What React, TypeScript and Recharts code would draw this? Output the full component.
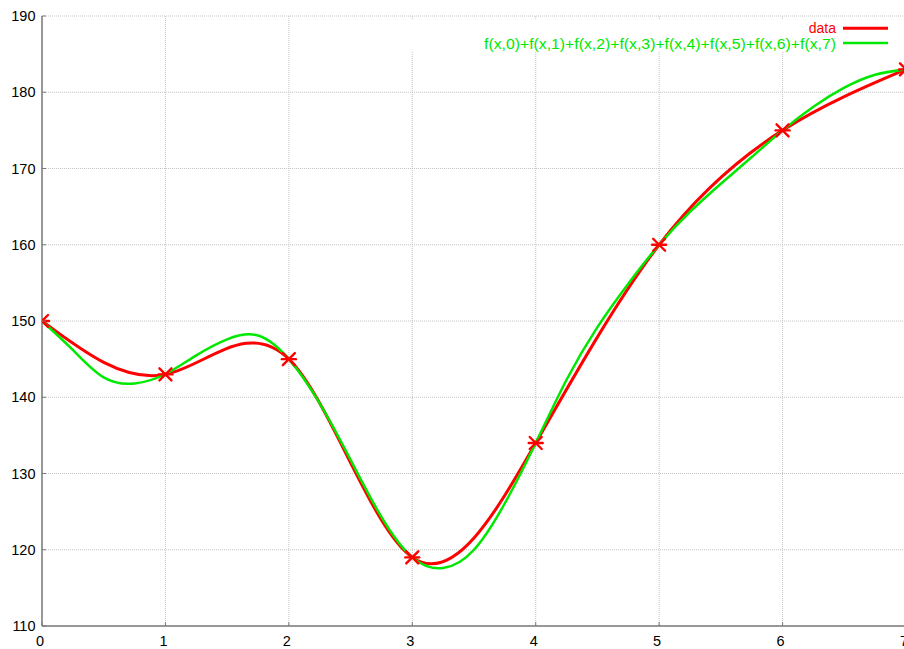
import React from 'react';
import { ComposedChart, Line, XAxis, YAxis, CartesianGrid, Legend } from 'recharts';

// ---- data ----
const dataX = [0, 1, 2, 3, 4, 5, 6, 7];
const dataValues = [150, 143, 145, 119, 134, 160, 175, 183];

const fitX = [
  0, 0.25, 0.5, 0.75, 1, 1.25, 1.5, 1.75, 2, 2.25, 2.5, 2.75, 3, 3.25, 3.5, 3.75,
  4, 4.25, 4.5, 4.75, 5, 5.25, 5.5, 5.75, 6, 6.25, 6.5, 6.75, 7,
];
const fitValues = [
  150, 146.2, 142.6, 141.8, 143.05, 145.5, 147.6, 148.1, 145, 139.2, 131.8, 124.3, 119,
  117.6, 120.0, 126.1, 134, 142.3, 149.2, 154.9, 160, 164.3, 168.0, 171.5, 175, 178.1,
  180.6, 182.3, 183,
];

const xTicks = [0, 1, 2, 3, 4, 5, 6, 7];
const yTicks = [110, 120, 130, 140, 150, 160, 170, 180, 190];
const seriesNames = ['data', 'f(x,0)+f(x,1)+f(x,2)+f(x,3)+f(x,4)+f(x,5)+f(x,6)+f(x,7)'];

const dataPoints = dataX.map((x, i) => ({ x, y: dataValues[i] }));
const fitPoints = fitX.map((x, i) => ({ x, y: fitValues[i] }));

// ---- styles ----
const RED = '#ff0000';
const GREEN = '#00e800';
const BORDER = '#7a7a7a';
const FONT = '"Liberation Sans", Arial, Helvetica, sans-serif';
const TICK_LEN = 4;

const BottomTick = (props: any) => {
  const { x, y, payload } = props;
  return (
    <g>
      <line x1={x} y1={y} x2={x} y2={y - TICK_LEN} stroke={BORDER} strokeWidth={1} />
      <text x={x - 2} y={y + 20} textAnchor="middle" fontFamily={FONT} fontSize={14.5} fill="#000">
        {payload.value}
      </text>
    </g>
  );
};

const TopTick = (props: any) => {
  const { x, y } = props;
  return <line x1={x} y1={y} x2={x} y2={y + TICK_LEN} stroke={BORDER} strokeWidth={1} />;
};

const LeftTick = (props: any) => {
  const { x, y, payload } = props;
  return (
    <g>
      <line x1={x} y1={y} x2={x + TICK_LEN} y2={y} stroke={BORDER} strokeWidth={1} />
      <text x={x - 6.5} y={y + 5} textAnchor="end" fontFamily={FONT} fontSize={14.5} fill="#000">
        {payload.value}
      </text>
    </g>
  );
};

const RightTick = (props: any) => {
  const { x, y } = props;
  return <line x1={x} y1={y} x2={x - TICK_LEN} y2={y} stroke={BORDER} strokeWidth={1} />;
};

const StarDot = (props: any) => {
  const { cx, cy, index } = props;
  if (cx == null || cy == null) return <g key={`s${index}`} />;
  const r = 6;
  return (
    <g key={`s${index}`} stroke={RED} strokeWidth={2.4} strokeLinecap="round">
      <line x1={cx - r} y1={cy - r} x2={cx + r} y2={cy + r} />
      <line x1={cx - r} y1={cy + r} x2={cx + r} y2={cy - r} />
      <line x1={cx - r - 1} y1={cy} x2={cx + r + 1} y2={cy} />
    </g>
  );
};

const LegendBox = () => (
  <svg width={504} height={32} style={{ display: 'block', background: '#ffffff' }}>
    <text x={436} y={13} textAnchor="end" fontFamily={FONT} fontSize={14} fill={RED}>
      {seriesNames[0]}
    </text>
    <line x1={443} y1={8.3} x2={488} y2={8.3} stroke={RED} strokeWidth={3} />
    <text
      x={84}
      y={29}
      fontFamily={FONT}
      fontSize={14}
      fill={GREEN}
      textLength={352}
      lengthAdjust="spacingAndGlyphs"
    >
      {seriesNames[1]}
    </text>
    <line x1={443} y1={23} x2={488} y2={23} stroke={GREEN} strokeWidth={2.5} />
  </svg>
);

export default function App() {
  return (
    <div
      style={{
        position: 'absolute',
        left: 0,
        top: 0,
        width: 904,
        height: 649,
        overflow: 'hidden',
        background: '#fff',
      }}
    >
      <ComposedChart
        width={960}
        height={649}
        margin={{ top: 16, right: 54, bottom: 0, left: 0 }}
      >
        <CartesianGrid stroke="#c4c4c4" strokeDasharray="1 1" strokeWidth={1} />
        <XAxis
          dataKey="x"
          type="number"
          domain={[0, 7]}
          ticks={xTicks}
          interval={0}
          height={23}
          axisLine={{ stroke: BORDER, strokeWidth: 1.5 }}
          tickLine={false}
          tickSize={0}
          tickMargin={0}
          tick={<BottomTick />}
          allowDataOverflow
        />
        <XAxis
          xAxisId="top"
          orientation="top"
          dataKey="x"
          type="number"
          domain={[0, 7]}
          ticks={xTicks}
          interval={0}
          height={0}
          axisLine={{ stroke: BORDER, strokeWidth: 1.5 }}
          tickLine={false}
          tickSize={0}
          tickMargin={0}
          tick={<TopTick />}
          allowDataOverflow
        />
        <YAxis
          type="number"
          domain={[110, 190]}
          ticks={yTicks}
          interval={0}
          width={42}
          axisLine={{ stroke: BORDER, strokeWidth: 1.5 }}
          tickLine={false}
          tickSize={0}
          tickMargin={0}
          tick={<LeftTick />}
          allowDataOverflow
        />
        <YAxis
          yAxisId="right"
          orientation="right"
          type="number"
          domain={[110, 190]}
          ticks={yTicks}
          interval={0}
          width={0}
          axisLine={{ stroke: BORDER, strokeWidth: 1.5 }}
          tickLine={false}
          tickSize={0}
          tickMargin={0}
          tick={<RightTick />}
          allowDataOverflow
        />
        <Legend
          layout="horizontal"
          verticalAlign="middle"
          align="center"
          wrapperStyle={{ top: 20, left: 400, width: 504, height: 32, margin: 0, padding: 0 }}
          content={() => <LegendBox />}
        />
        <Line
          data={dataPoints}
          dataKey="y"
          name={seriesNames[0]}
          type="natural"
          stroke={RED}
          strokeWidth={3}
          dot={false}
          activeDot={false}
          isAnimationActive={false}
        />
        <Line
          data={fitPoints}
          dataKey="y"
          name={seriesNames[1]}
          type="natural"
          stroke={GREEN}
          strokeWidth={2.5}
          dot={false}
          activeDot={false}
          isAnimationActive={false}
        />
        <Line
          data={dataPoints}
          dataKey="y"
          name="markers"
          legendType="none"
          type="linear"
          stroke="none"
          strokeWidth={0}
          dot={<StarDot />}
          activeDot={false}
          isAnimationActive={false}
        />
      </ComposedChart>
    </div>
  );
}
